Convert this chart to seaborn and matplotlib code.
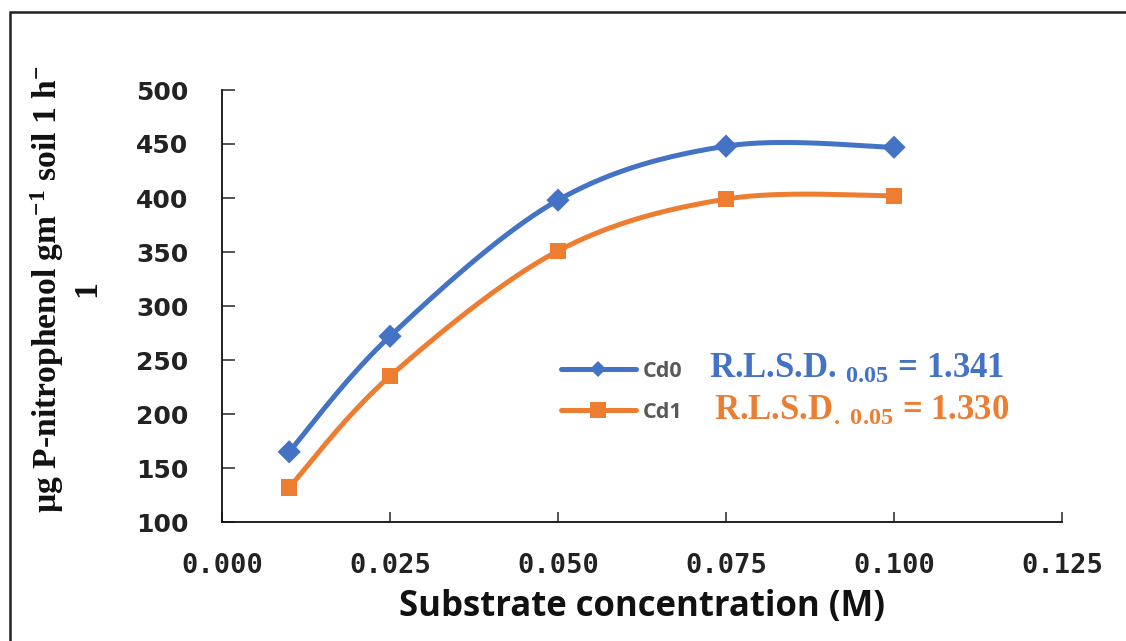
import numpy as np
import pandas as pd
import matplotlib
matplotlib.use("Agg")
import matplotlib.pyplot as plt
from matplotlib.lines import Line2D
from matplotlib.patches import Rectangle
import seaborn as sns

# Substrate concentration (M) and enzyme activity for each Cd level
conc = [0.010, 0.025, 0.050, 0.075, 0.100]
cd0 = [165, 272, 398, 448, 447]
cd1 = [132, 235, 351, 399, 402]
series_names = ["Cd0", "Cd1"]
rlsd_labels = [r"R.L.S.D. $_{0.05}$ = 1.341", r"R.L.S.D$_{.\ 0.05}$ = 1.330"]
y_ticks = [100, 150, 200, 250, 300, 350, 400, 450, 500]
x_ticks = [0.000, 0.025, 0.050, 0.075, 0.100, 0.125]

BLUE = "#4472C4"
ORANGE = "#ED7D31"
palette = {"Cd0": BLUE, "Cd1": ORANGE}
markers = {"Cd0": "D", "Cd1": "s"}


def smooth_curve(xs, ys, n=40):
    """Catmull-Rom style smoothed line through the points (Bezier segments)."""
    pts = np.column_stack([xs, ys]).astype(float)
    out = []
    for i in range(len(pts) - 1):
        p0 = pts[i - 1] if i > 0 else pts[i]
        p1 = pts[i]
        p2 = pts[i + 1]
        p3 = pts[i + 2] if i + 2 < len(pts) else pts[i + 1]
        c1 = p1 + (p2 - p0) / 6.0
        c2 = p2 - (p3 - p1) / 6.0
        t = np.linspace(0, 1, n, endpoint=(i == len(pts) - 2))[:, None]
        seg = ((1 - t) ** 3) * p1 + 3 * ((1 - t) ** 2) * t * c1 + 3 * (1 - t) * t ** 2 * c2 + t ** 3 * p2
        out.append(seg)
    return np.vstack(out)


sns.set_theme(style="white")
plt.rcParams["font.family"] = ["DejaVu Sans"]
plt.rcParams["mathtext.fontset"] = "custom"
plt.rcParams["mathtext.rm"] = "Liberation Serif:bold"
plt.rcParams["mathtext.it"] = "Liberation Serif:bold"
plt.rcParams["mathtext.bf"] = "Liberation Serif:bold"
plt.rcParams["mathtext.default"] = "rm"

points = pd.DataFrame({
    "conc": conc * 2,
    "activity": cd0 + cd1,
    "series": ["Cd0"] * len(conc) + ["Cd1"] * len(conc),
})

curves = []
for name, vals in zip(series_names, [cd0, cd1]):
    sm = smooth_curve(conc, vals)
    curves.append(pd.DataFrame({"conc": sm[:, 0], "activity": sm[:, 1], "series": name}))
curves = pd.concat(curves, ignore_index=True)

fig = plt.figure(figsize=(11.26, 6.41), dpi=100)
ax = fig.add_axes([222 / 1126, 1 - 522 / 641, (1062 - 222) / 1126, (522 - 90) / 641])

sns.lineplot(data=curves, x="conc", y="activity", hue="series", palette=palette,
             sort=False, linewidth=3.6, legend=False, ax=ax, zorder=3)
sns.scatterplot(data=points, x="conc", y="activity", hue="series", style="series",
                palette=palette, markers=markers, s=140, linewidth=0,
                legend=False, ax=ax, zorder=4)

ax.set_xlim(0, 0.125)
ax.set_ylim(100, 500)
ax.set_xticks(x_ticks)
ax.set_xticklabels([f"{v:.3f}" for v in x_ticks], family="DejaVu Sans Mono",
                   fontsize=19.5, fontweight="bold", color="#222222")
ax.set_yticks(y_ticks)
ax.set_yticklabels([str(v) for v in y_ticks], fontsize=18, fontweight="bold",
                   color="#222222")
ax.tick_params(axis="y", direction="in", length=9.5, width=1.1, pad=24, left=True)
ax.tick_params(axis="x", direction="in", length=7.5, width=1.1, pad=22, bottom=True)

for side in ["top", "right"]:
    ax.spines[side].set_visible(False)
for side in ["left", "bottom"]:
    ax.spines[side].set_color("#111111")
    ax.spines[side].set_linewidth(1.3)

ax.set_xlabel("Substrate concentration (M)", family="Open Sans", fontweight="bold",
              fontsize=25, color="#111111")
ax.xaxis.set_label_coords(0.5, -0.155)
ax.set_ylabel("µg P-nitrophenol gm$^{-1}$ soil 1 h$^{-}$\n1", family="Liberation Serif",
              fontweight="bold", fontsize=24.2, color="#111111", linespacing=1.2)
ax.yaxis.set_label_coords(-0.143, 0.54)

handles = [Line2D([0], [0], color=palette[n], lw=3.6, marker=markers[n],
                  markersize=8 if n == "Cd0" else 11, markeredgewidth=0)
           for n in series_names]
ax.legend(handles, series_names, loc="upper left", bbox_to_anchor=(0.393, 0.393),
          frameon=False, handlelength=3.5, handletextpad=0.3, labelspacing=0.92,
          prop={"family": "Open Sans", "weight": "bold", "size": 15.5}, labelcolor="#595959",
          borderaxespad=0)

ax.text(0.580, 0.354, rlsd_labels[0], transform=ax.transAxes, color=BLUE,
        family="Liberation Serif", fontweight="bold",
        fontsize=25, ha="left", va="center")
ax.text(0.586, 0.257, rlsd_labels[1], transform=ax.transAxes, color=ORANGE,
        family="Liberation Serif", fontweight="bold",
        fontsize=25, ha="left", va="center")

fig.patches.append(Rectangle((10 / 1126, -0.1), 1.5, 1 - 12 / 641 + 0.1,
                             transform=fig.transFigure, fill=False,
                             edgecolor="#222222", linewidth=1.8))

fig.savefig("out.png", dpi=100)
